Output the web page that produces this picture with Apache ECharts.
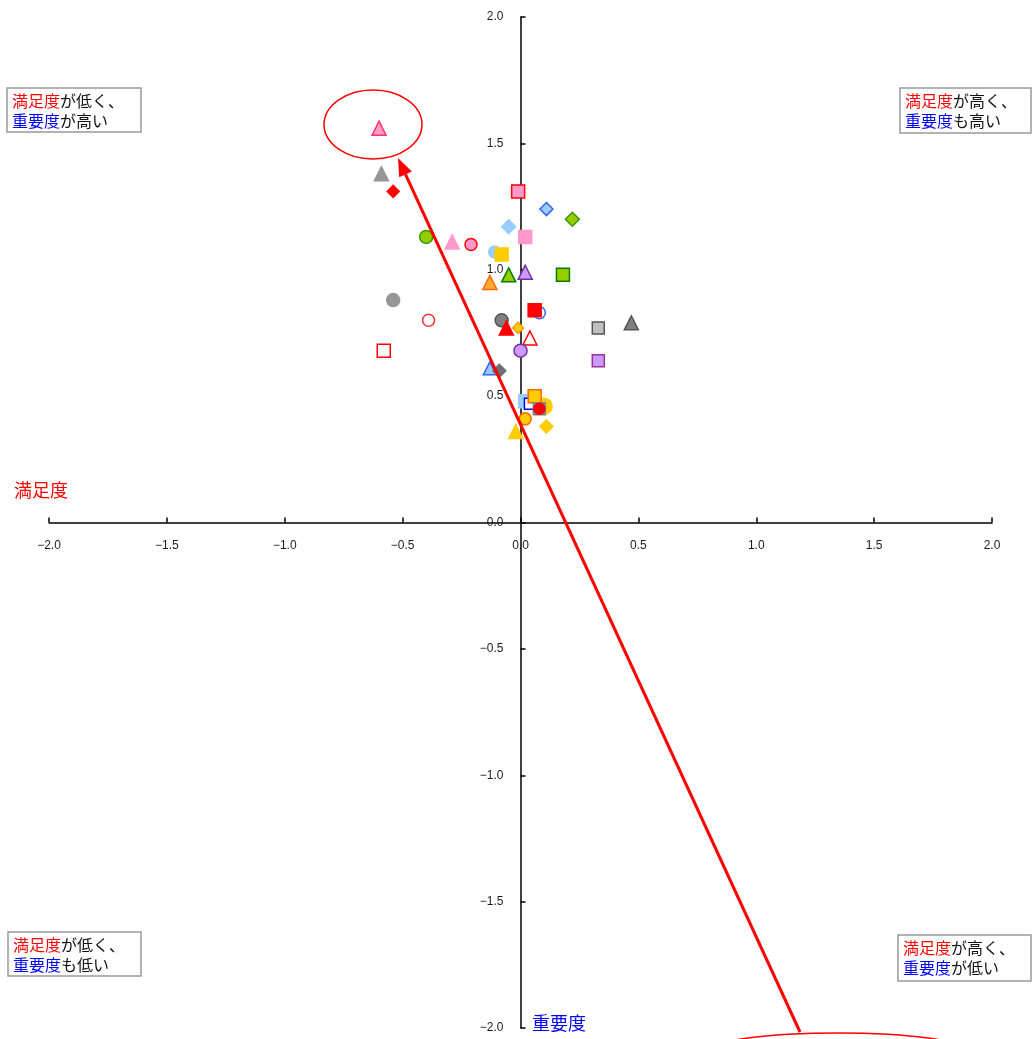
<!DOCTYPE html>
<html><head><meta charset="utf-8">
<script src="https://cdn.jsdelivr.net/npm/echarts@6/dist/echarts.min.js"></script>
<style>html,body{margin:0;padding:0;background:#fff}#c{width:1033px;height:1039px}</style>
</head><body><div id="c"></div><script>
// 満足度 (x) and 重要度 (y) per item
const satisfaction = [-0.60,-0.59,-0.54,-0.01,0.11,0.22,-0.05,0.02,-0.40,-0.29,-0.21,-0.11,-0.08,-0.05,0.02,0.18,-0.13,
  -0.54,-0.39,-0.58,0.08,0.06,-0.08,-0.06,-0.01,0.04,0.33,0.47,0.00,0.33,-0.13,-0.09,
  0.02,0.04,0.10,0.06,0.08,0.08,0.02,-0.02,0.11];
const importance = [1.56,1.38,1.31,1.31,1.24,1.20,1.17,1.13,1.13,1.11,1.10,1.07,1.06,0.98,0.99,0.98,0.95,
  0.88,0.80,0.68,0.83,0.84,0.80,0.77,0.77,0.73,0.77,0.79,0.68,0.64,0.61,0.60,
  0.48,0.47,0.46,0.50,0.45,0.45,0.41,0.36,0.38];
// marker styles
const symbols = ['triangle','triangle','diamond','rect','diamond','diamond','diamond','rect','circle','triangle','circle','circle','rect','triangle','triangle','rect','triangle',
  'circle','circle','rect','circle','rect','circle','triangle','diamond','triangle','rect','triangle','circle','rect','triangle','diamond',
  'rect','rect','circle','rect','rect','circle','circle','triangle','diamond'];
const fills = ['#ff99cc','#969696','#ff0000','#ff99cc','#99ccff','#99cc00','#99ccff','#ff99cc','#99cc00','#ff99cc','#ff99cc','#99ccff','#ffcc00','#99cc00','#cc99ff','#99cc00','#ffaa33',
  '#969696','#ffffff','#ffffff','#ffffff','#ff0000','#808080','#ff0000','#ffcc00','#ffffff','#c0c0c0','#808080','#cc99ff','#cc99ff','#99ccff','#707070',
  '#99ccff','#ffffff','#ffcc00','#ffcc00','#969696','#ff0000','#ffcc00','#ffcc00','#ffcc00'];
const strokes = ['#ff3366','#969696','#ff0000','#ff0000','#3366ff','#339900','#99ccff','#ff99cc','#339900','#ff99cc','#ff0000','#99ccff','#ffcc00','#008000','#7030a0','#008000','#ff6600',
  '#969696','#ff3333','#ff0000','#3366ff','#ff0000','#555555','#ff0000','#ff9900','#ff0000','#555555','#555555','#7030a0','#993399','#3366ff','#707070',
  '#99ccff','#0000ff','#ffcc00','#ff6600','#808080','#ff0000','#ff6600','#ffcc00','#ffcc00'];
const sizes = [14,14,12,13,13,14,14,13,13,14,12,12,13,14,14,13,14,
  13,12,13,12,13,13,14,11,14,12,14,13,12,13,13,
  13,11,16,13,12,11,12,14,13];

const data = satisfaction.map((x,i)=>({
  value:[x, importance[i]],
  symbol:symbols[i], symbolSize:sizes[i],
  itemStyle:{color:fills[i], borderColor:strokes[i], borderWidth:1.5, opacity:1}
}));

const fmt = v => (v<0?'\u2212':'') + Math.abs(v).toFixed(1);
const labelStyle = {color:'#1a1a1a', fontFamily:'Liberation Sans, Arial, sans-serif', fontSize:12};

const W=1033, H=1039, GL=49, GR=41, GT=17, GB=11;
const plotW=W-GL-GR, plotH=H-GT-GB;

const chart = echarts.init(document.getElementById('c'));

function box(x,y,w,h,first,second){
  return {type:'group', z:50, children:[
    {type:'rect', shape:{x:x,y:y,width:w,height:h}, style:{fill:'#fff', stroke:'#999', lineWidth:1.5}},
    {type:'text', x:x+5, y:y+3, style:{
      text:first+'\n'+second, lineHeight:20,
      rich:{
        r:{fill:'#ff0000', fontSize:16, fontFamily:'Noto Sans CJK JP', lineHeight:20},
        b:{fill:'#0000ff', fontSize:16, fontFamily:'Noto Sans CJK JP', lineHeight:20},
        k:{fill:'#111', fontSize:16, fontFamily:'Noto Sans CJK JP', lineHeight:20}
      }}}
  ]};
}

// arrow geometry
const tip=[398,158], tail=[800,1032];
const dx=tip[0]-tail[0], dy=tip[1]-tail[1], L=Math.hypot(dx,dy);
const ux=dx/L, uy=dy/L, nx=-uy, ny=ux, AL=18, AW=7;
const base=[tip[0]-AL*ux, tip[1]-AL*uy];

chart.setOption({
  animation:false,
  backgroundColor:'#fff',
  grid:{left:GL,right:GR,top:GT,bottom:GB,containLabel:false,outerBoundsMode:'none'},
  xAxis:{type:'value',min:-2,max:2,interval:0.5,position:'bottom',offset:-plotH/2,
    axisLine:{onZero:false,lineStyle:{color:'#000',width:1.5}},
    axisTick:{inside:true,length:5,lineStyle:{color:'#000',width:1.5}},
    axisLabel:Object.assign({margin:17,formatter:fmt,showMinLabel:true,showMaxLabel:true},labelStyle),
    splitLine:{show:false}},
  yAxis:{type:'value',min:-2,max:2,interval:0.5,position:'left',offset:-plotW/2,
    axisLine:{onZero:false,lineStyle:{color:'#000',width:1.5}},
    axisTick:{inside:true,length:5,lineStyle:{color:'#000',width:1.5}},
    axisLabel:Object.assign({margin:17,formatter:fmt,showMinLabel:true,showMaxLabel:true},labelStyle),
    splitLine:{show:false}},
  series:[{type:'scatter', data:data, z:3}],
  graphic:[
    box(7,88,134,44,'{r|満足度}{k|が低く、}','{b|重要度}{k|が高い}'),
    box(900,88,131,45,'{r|満足度}{k|が高く、}','{b|重要度}{k|も高い}'),
    box(8,932,133,44,'{r|満足度}{k|が低く、}','{b|重要度}{k|も低い}'),
    box(898,935,133,46,'{r|満足度}{k|が高く、}','{b|重要度}{k|が低い}'),
    {type:'text', x:14, y:481, z:50, style:{text:'満足度', fill:'#ff0000', fontSize:18, fontFamily:'Noto Sans CJK JP'}},
    {type:'text', x:532, y:1014, z:50, style:{text:'重要度', fill:'#0000ff', fontSize:18, fontFamily:'Noto Sans CJK JP'}},
    {type:'ellipse', z:100, shape:{cx:373,cy:124.5,rx:49,ry:34.5}, style:{fill:'none',stroke:'#ff0000',lineWidth:1.5}},
    {type:'ellipse', z:100, shape:{cx:838,cy:1051,rx:130,ry:18}, style:{fill:'none',stroke:'#ff0000',lineWidth:1.5}},
    {type:'line', z:100, shape:{x1:tail[0],y1:tail[1],x2:base[0],y2:base[1]}, style:{stroke:'#ff0000',lineWidth:3}},
    {type:'polygon', z:100, shape:{points:[tip,[base[0]+AW*nx,base[1]+AW*ny],[base[0]-AW*nx,base[1]-AW*ny]]}, style:{fill:'#ff0000'}}
  ]
});
</script></body></html>
